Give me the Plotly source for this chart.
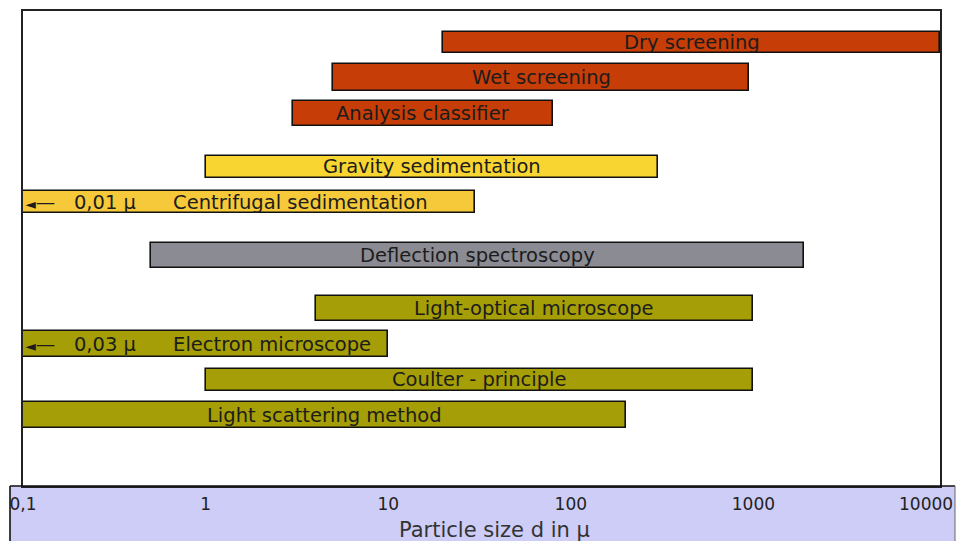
import math
import plotly.graph_objects as go

# ---------------- data ----------------
methods = ["Dry screening", "Wet screening", "Analysis classifier",
           "Gravity sedimentation", "Centrifugal sedimentation",
           "Deflection spectroscopy", "Light-optical microscope",
           "Electron microscope", "Coulter - principle", "Light scattering method"]
size_min = [20, 5, 3, 1, 0.1, 0.5, 4, 0.1, 1, 0.1]
size_max = [10500, 950, 80, 300, 30, 1900, 1000, 10, 1000, 200]
lower_note = ["", "", "", "", "0,01 µ", "", "", "0,03 µ", "", ""]
group = ["screening", "screening", "screening", "sedimentation", "sedimentation",
         "deflection", "optical", "optical", "optical", "optical"]
tick_vals = [0.1, 1, 10, 100, 1000]
tick_text = ["0,1", "1", "10", "100", "1000"]
last_tick_val = 10000
last_tick_text = "10000"
axis_title = "Particle size d in µ"

# ---------------- layout / style ----------------
row_slot = [0, 2, 4, 7, 9, 12, 15, 17, 19, 21]
bar_px = [21, 27, 25, 22, 22, 25, 25, 26, 22, 26]
px_per_slot = 17.74
colors = {"screening": "#c63d08", "sedimentation": "#f9d532",
          "deflection": "#8b8b93", "optical": "#a59e06"}
bar_colors = [colors[g] for g in group]
bar_colors[4] = "#f5c93a"
FONT = "DejaVu Sans"
TXT = "#1c1c1c"

W, H = 959, 541
ml, mr, mt, mb = 23, 19, 11, 55
plot_w = W - ml - mr
plot_h = H - mt - mb
decade_px = 182.6
x_hi = -1 + plot_w / decade_px
y_top = -(42.5 - mt) / px_per_slot
y_bot = y_top + plot_h / px_per_slot

fig = go.Figure()
fig.add_trace(go.Bar(
    orientation="h",
    y=row_slot,
    base=size_min,
    x=[b - a for a, b in zip(size_min, size_max)],
    width=[p / px_per_slot for p in bar_px],
    marker=dict(color=bar_colors, line=dict(color="#111", width=1.6)),
    hoverinfo="skip",
    showlegend=False,
))

annotations = []
for m, a, b, note, s in zip(methods, size_min, size_max, lower_note, row_slot):
    if note:
        txt = ("<span style='font-size:14px'>◄</span>—&nbsp;&nbsp;&nbsp;" + note
               + "&nbsp;&nbsp;&nbsp;&nbsp;&nbsp;&nbsp;" + m)
        annotations.append(dict(x=math.log10(a), y=s, xref="x", yref="y", text=txt,
                                showarrow=False, xanchor="left", xshift=0,
                                font=dict(family=FONT, size=19.5, color=TXT)))
    else:
        xc = (math.log10(a) + math.log10(min(b, 10 ** x_hi))) / 2
        annotations.append(dict(x=xc, y=s, xref="x", yref="y", text=m,
                                showarrow=False, xanchor="center",
                                font=dict(family=FONT, size=19.5, color=TXT)))

# last tick label, right-aligned so it stays inside the page
annotations.append(dict(x=math.log10(last_tick_val), y=-(504 - (H - mb)) / plot_h,
                        xref="x", yref="paper", text=last_tick_text, showarrow=False,
                        xanchor="right", yanchor="middle", xshift=19,
                        font=dict(family=FONT, size=17, color="#222")))

annotations.append(dict(x=(494 - ml) / plot_w, y=-(530 - (H - mb)) / plot_h,
                        xref="paper", yref="paper", text=axis_title, showarrow=False,
                        xanchor="center", yanchor="middle",
                        font=dict(family=FONT, size=21, color="#333")))

bx0 = (10 - ml) / plot_w
bx1 = (955 - ml) / plot_w
by1 = -mb / plot_h
shapes = [
    dict(type="rect", xref="paper", yref="paper", x0=bx0, x1=bx1, y0=0, y1=by1,
         fillcolor="#cdcdf7", line=dict(width=0), layer="below"),
    dict(type="line", xref="paper", yref="paper", x0=bx0, x1=bx1, y0=0, y1=0,
         line=dict(color="#111", width=1.6)),
    dict(type="line", xref="paper", yref="paper", x0=bx0, x1=bx0, y0=0, y1=by1,
         line=dict(color="#111", width=1.6)),
    dict(type="line", xref="paper", yref="paper", x0=bx1, x1=bx1, y0=0, y1=by1,
         line=dict(color="#666", width=1)),
]

fig.update_layout(
    width=W, height=H,
    margin=dict(l=ml, r=mr, t=mt, b=mb, pad=0),
    paper_bgcolor="white", plot_bgcolor="white",
    annotations=annotations, shapes=shapes,
    bargap=0,
    xaxis=dict(type="log", range=[-1, x_hi], tickvals=tick_vals, ticktext=tick_text,
               showgrid=False, zeroline=False, showline=True, mirror=True,
               linecolor="#222", linewidth=1.5, ticks="", automargin=False,
               tickfont=dict(family=FONT, size=17, color="#222"),
               ticklabelstandoff=2, ticklabeloverflow="allow"),
    yaxis=dict(range=[y_bot, y_top], showticklabels=False, showgrid=False,
               zeroline=False, showline=True, mirror=True, linecolor="#222",
               linewidth=1.5, ticks="", automargin=False),
)

fig.write_html("out.html", config={"displayModeBar": False},
               post_script="document.body.style.margin='0';document.body.style.overflow='hidden';")
